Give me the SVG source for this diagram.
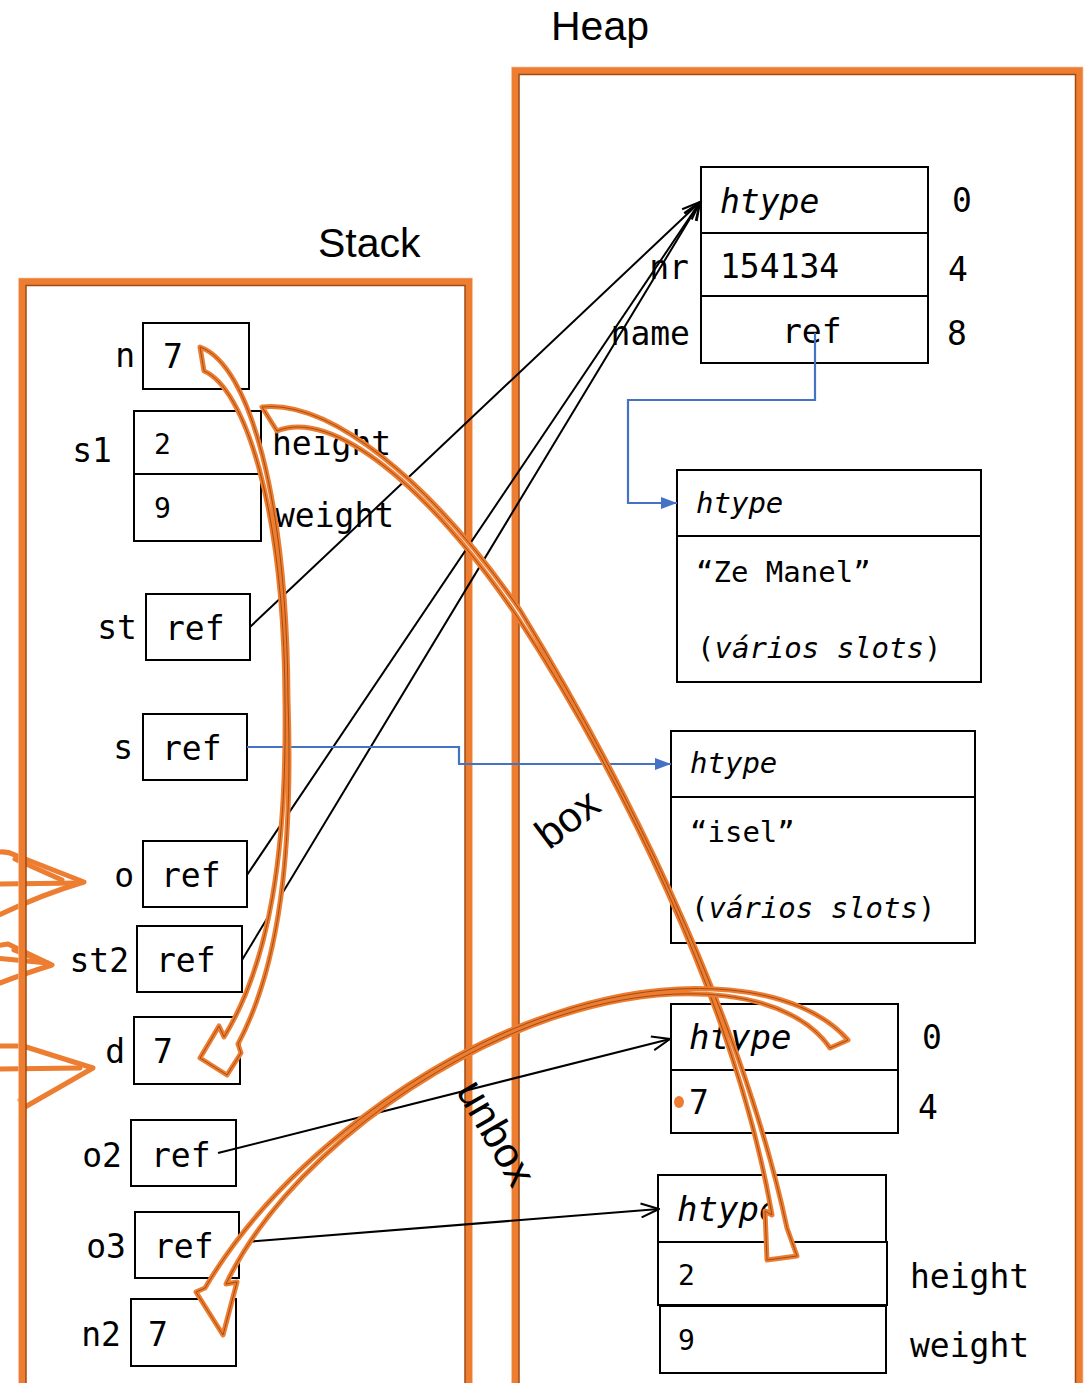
<svg xmlns="http://www.w3.org/2000/svg" width="1084" height="1383" viewBox="0 0 1084 1383">
  <style>
    .box { fill: #fff; stroke: #000; stroke-width: 2; }
    .mono { font-family: "DejaVu Sans Mono", "Liberation Mono", monospace; font-size: 33px; fill: #000; }
    .sm { font-size: 28px; }
    .md { font-size: 29px; }
    .lg { font-size: 34px; }
    .it { font-style: italic; }
    .title { font-family: "Liberation Sans", Arial, sans-serif; font-size: 41px; fill: #000; }
    .note { font-family: "Liberation Sans", Arial, sans-serif; font-size: 42px; fill: #000; }
    .frame { fill: none; stroke: #ED7D31; stroke-width: 7; }
    .frame-in { fill: none; stroke: #9E4A12; stroke-width: 1.5; }
    .frame-out { fill: none; stroke: #F4B183; stroke-width: 1.5; }
    .ptr { fill: none; stroke: #000; stroke-width: 2; marker-end: url(#open); }
    .blue { fill: none; stroke: #4472C4; stroke-width: 2.2; marker-end: url(#solid); }
    .barrow { fill: #fff; stroke: #ED7D31; stroke-width: 5; stroke-linejoin: round; }
    .barrow-edge { fill: none; stroke: #A34D14; stroke-width: 1; stroke-linejoin: round; }
    .stub { fill: none; stroke: #ED7D31; stroke-width: 5; stroke-linejoin: round; stroke-linecap: round; }
  </style>
  <defs>
    <marker id="open" viewBox="0 0 20 16" refX="19" refY="8" markerWidth="20" markerHeight="16" markerUnits="userSpaceOnUse" orient="auto">
      <path d="M1,1 L19,8 L1,15" fill="none" stroke="#000" stroke-width="2"/>
    </marker>
    <marker id="solid" viewBox="0 0 16 12" refX="16" refY="6" markerWidth="16" markerHeight="12" markerUnits="userSpaceOnUse" orient="auto">
      <path d="M0,0 L16,6 L0,12 Z" fill="#4472C4"/>
    </marker>
    <path id="copy-shape" d="M200,347 C250,365 287,500 288,700 C293,850 280,965 238,1044 L241,1053 L227,1075 L200,1058 L219,1026 L224,1037 C270,962 287,850 285,700 C284,505 244,388 204,371 Z"/>
    <path id="box-shape" d="M262,407 C330,400 430,480 520,610 C612,760 738,1000 787,1228 L797,1256 L767,1260 L765,1211 L772,1215 C735,1000 613,763 516,615 C428,486 332,408 277,431 Z"/>
    <path id="unbox-shape" d="M848,1040 C800,985 680,970 550,1015 C430,1055 280,1160 205,1288 L196,1292 L223,1335 L237,1282 L226,1284 C284,1162 433,1058 553,1018 C680,975 792,992 830,1048 Z"/>
  </defs>

  <rect width="1084" height="1383" fill="#fff"/>

  <!-- arrowheads entering from the left margin -->
  <g id="incoming">
    <path class="stub" d="M-5,853 Q5,850 15,855 L84,882 Q40,895 -5,917"/>
    <path class="stub" d="M-5,884 L78,883"/>
    <path class="stub" d="M15,859 L62,880"/>
    <path class="stub" d="M-5,946 L8,944 L52,965 Q20,975 -5,985"/>
    <path class="stub" d="M-5,958 L48,963"/>
    <path class="stub" d="M14,950 L42,961"/>
    <path class="stub" d="M-5,1046 L23,1046 L93,1068 L25,1107 L20,1100"/>
    <path class="stub" d="M-5,1069 L80,1068"/>
  </g>

  <!-- memory regions -->
  <g id="stack">
    <rect class="frame-out" x="19" y="278.5" width="453" height="1200"/>
    <rect class="frame" x="22.5" y="282" width="446" height="1200"/>
    <rect class="frame-in" x="26" y="285.5" width="439" height="1200"/>
    <text class="title" x="318" y="257">Stack</text>
  </g>
  <g id="heap">
    <rect class="frame-out" x="512" y="67.5" width="570.5" height="1400"/>
    <rect class="frame" x="515.5" y="71" width="563.5" height="1400"/>
    <rect class="frame-in" x="519" y="74.5" width="556.5" height="1400"/>
    <text class="title" x="551" y="40">Heap</text>
  </g>

  <!-- stack slots -->
  <g id="var-n">
    <rect class="box" x="143" y="323" width="106" height="66"/>
    <text class="mono" x="135" y="367" text-anchor="end">n</text>
    <text class="mono" x="163" y="368">7</text>
  </g>
  <g id="var-s1">
    <rect class="box" x="134" y="411" width="127" height="63"/>
    <rect class="box" x="134" y="474" width="127" height="67"/>
    <text class="mono" x="112" y="462" text-anchor="end">s1</text>
    <text class="mono sm" x="154" y="454">2</text>
    <text class="mono sm" x="154" y="518">9</text>
    <text class="mono" x="272" y="455">height</text>
    <text class="mono" x="275" y="527">weight</text>
  </g>
  <g id="var-st">
    <rect class="box" x="146" y="594" width="104" height="66"/>
    <text class="mono" x="137" y="639" text-anchor="end">st</text>
    <text class="mono" x="165" y="640">ref</text>
  </g>
  <g id="var-s">
    <rect class="box" x="143" y="714" width="104" height="66"/>
    <text class="mono" x="133" y="759" text-anchor="end">s</text>
    <text class="mono" x="162" y="760">ref</text>
  </g>
  <g id="var-o">
    <rect class="box" x="143" y="841" width="104" height="66"/>
    <text class="mono" x="134" y="887" text-anchor="end">o</text>
    <text class="mono" x="161" y="887">ref</text>
  </g>
  <g id="var-st2">
    <rect class="box" x="137" y="926" width="105" height="66"/>
    <text class="mono" x="129" y="972" text-anchor="end">st2</text>
    <text class="mono" x="156" y="972">ref</text>
  </g>
  <g id="var-d">
    <rect class="box" x="134" y="1017" width="106" height="67"/>
    <text class="mono" x="125" y="1063" text-anchor="end">d</text>
    <text class="mono" x="153" y="1063">7</text>
  </g>
  <g id="var-o2">
    <rect class="box" x="131" y="1120" width="105" height="66"/>
    <text class="mono" x="122" y="1167" text-anchor="end">o2</text>
    <text class="mono" x="151" y="1167">ref</text>
  </g>
  <g id="var-o3">
    <rect class="box" x="135" y="1212" width="104" height="66"/>
    <text class="mono" x="126" y="1258" text-anchor="end">o3</text>
    <text class="mono" x="154" y="1258">ref</text>
  </g>
  <g id="var-n2">
    <rect class="box" x="131" y="1299" width="105" height="67"/>
    <text class="mono" x="121" y="1346" text-anchor="end">n2</text>
    <text class="mono" x="148" y="1346">7</text>
  </g>

  <!-- heap objects -->
  <g id="obj-student">
    <rect class="box" x="701" y="167" width="227" height="66"/>
    <rect class="box" x="701" y="233" width="227" height="63"/>
    <rect class="box" x="701" y="296" width="227" height="67"/>
    <text class="mono it" x="720" y="213">htype</text>
    <text class="mono" x="720" y="278">154134</text>
    <text class="mono" x="782" y="343">ref</text>
    <text class="mono" x="952" y="212">0</text>
    <text class="mono" x="948" y="281">4</text>
    <text class="mono" x="947" y="345">8</text>
    <text class="mono" x="689" y="279" text-anchor="end">nr</text>
    <text class="mono" x="690" y="345" text-anchor="end">name</text>
  </g>
  <g id="obj-name">
    <rect class="box" x="677" y="470" width="304" height="212"/>
    <line x1="677" y1="536" x2="981" y2="536" stroke="#000" stroke-width="2"/>
    <text class="mono md it" x="696" y="513">htype</text>
    <text class="mono md" x="696" y="582">“Ze Manel”</text>
    <text class="mono md" x="697" y="658">(<tspan class="it">vários slots</tspan>)</text>
  </g>
  <g id="obj-isel">
    <rect class="box" x="671" y="731" width="304" height="212"/>
    <line x1="671" y1="797" x2="975" y2="797" stroke="#000" stroke-width="2"/>
    <text class="mono md it" x="690" y="773">htype</text>
    <text class="mono md" x="690" y="842">“isel”</text>
    <text class="mono md" x="691" y="918">(<tspan class="it">vários slots</tspan>)</text>
  </g>
  <g id="obj-boxed-int">
    <rect class="box" x="671" y="1004" width="227" height="66"/>
    <rect class="box" x="671" y="1070" width="227" height="63"/>
    <text class="mono lg it" x="689" y="1049">htype</text>
    <text class="mono" x="689" y="1114">7</text>
    <text class="mono" x="922" y="1049">0</text>
    <text class="mono" x="918" y="1119">4</text>
    <ellipse cx="679" cy="1102" rx="5" ry="6" fill="#ED7D31"/>
  </g>
  <g id="obj-boxed-struct">
    <rect class="box" x="658" y="1175" width="228" height="67"/>
    <rect class="box" x="658" y="1242" width="229" height="63"/>
    <rect class="box" x="660" y="1306" width="226" height="67"/>
    <text class="mono lg it" x="677" y="1221">htype</text>
    <text class="mono sm" x="678" y="1285">2</text>
    <text class="mono sm" x="678" y="1350">9</text>
    <text class="mono" x="910" y="1288">height</text>
    <text class="mono" x="910" y="1357">weight</text>
  </g>

  <!-- references -->
  <g id="connectors">
    <path class="ptr" d="M250,627 L700,202"/>
    <path class="ptr" d="M247,875 L700,202"/>
    <path class="ptr" d="M242,960 L700,202"/>
    <path class="ptr" d="M218,1153 L670,1039"/>
    <path class="ptr" d="M245,1242 L659,1209"/>
    <path class="blue" d="M815,333 L815,400 L628,400 L628,503 L677,503"/>
    <path class="blue" d="M247,747 L459,747 L459,764 L671,764"/>
  </g>

  <!-- copy / box / unbox block arrows -->
  <g id="copy-arrow">
    <use href="#copy-shape" class="barrow"/>
    <use href="#copy-shape" class="barrow-edge"/>
  </g>
  <g id="box-arrow">
    <use href="#box-shape" class="barrow"/>
    <use href="#box-shape" class="barrow-edge"/>
    <text class="note" transform="translate(576,830) rotate(-37)" text-anchor="middle">box</text>
  </g>
  <g id="unbox-arrow">
    <use href="#unbox-shape" class="barrow"/>
    <use href="#unbox-shape" class="barrow-edge"/>
    <text class="note" transform="translate(484,1140) rotate(60)" text-anchor="middle">unbox</text>
  </g>
</svg>
